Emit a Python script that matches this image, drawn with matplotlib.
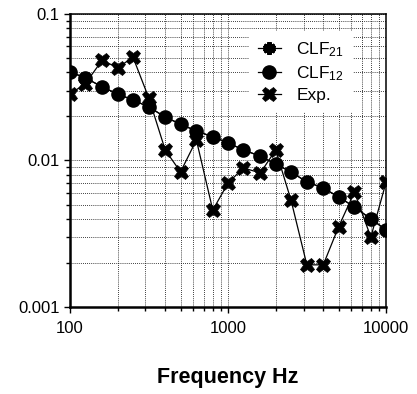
"""Loss factor vs frequency: CLF21, CLF12 and experiment"""

import matplotlib.pyplot as plt
from matplotlib.ticker import LogLocator, NullFormatter, FixedLocator, FixedFormatter

plt.rcParams['font.family'] = ['Liberation Sans', 'DejaVu Sans']
plt.rcParams['mathtext.fontset'] = 'custom'
plt.rcParams['mathtext.rm'] = 'Liberation Sans'
plt.rcParams['mathtext.it'] = 'Liberation Sans'
plt.rcParams['mathtext.bf'] = 'Liberation Sans:bold'

freq = [100, 125, 160, 200, 250, 315, 400, 500, 630, 800, 1000,
        1250, 1600, 2000, 2500, 3150, 4000, 5000, 6300, 8000, 10000]
clf12 = [0.0402, 0.0366, 0.0318, 0.0284, 0.0259, 0.0232, 0.0198, 0.0177, 0.0159, 0.0145, 0.0132,
         0.0118, 0.0107, 0.00946, 0.00835, 0.00714, 0.00649, 0.00564, 0.00482, 0.00399, 0.00336]
clf21 = [0.0402, 0.0366, 0.0318, 0.0284, 0.0259, 0.0232, 0.0198, 0.0177, 0.0159, 0.0145, 0.0132,
         0.0118, 0.0107, 0.00946, 0.00835, 0.00714, 0.00649, 0.00564, 0.00482, 0.00399, 0.00336]
exp = [0.0284, 0.0335, 0.0485, 0.0428, 0.0508, 0.0267, 0.0118, 0.00835, 0.0138, 0.00459, 0.00702,
       0.0089, 0.00822, 0.0118, 0.00537, 0.00194, 0.00194, 0.00352, 0.0061, 0.0030, 0.00714]

fig = plt.figure(figsize=(4.17, 3.94), dpi=100)
ax = fig.add_axes([0.168, 0.2208, 0.758, 0.7437])

ax.plot(freq, clf21, color="black", lw=0.9, marker=(6, 2, 0), ms=9, mew=3, label="CLF$_{21}$")
ax.plot(freq, exp, color="black", lw=0.9, marker="X", ms=10.5, mew=0.5, label="Exp.")
ax.plot(freq, clf12, color="black", lw=0.9, marker="o", ms=9.5, label="CLF$_{12}$")

ax.set_xscale("log")
ax.set_yscale("log")
ax.set_xlim(100, 10000)
ax.set_ylim(0.001, 0.1)

ax.xaxis.set_major_locator(FixedLocator([100, 1000, 10000]))
ax.xaxis.set_major_formatter(FixedFormatter(["100", "1000", "10000"]))
ax.xaxis.set_minor_locator(LogLocator(base=10, subs=range(2, 10)))
ax.xaxis.set_minor_formatter(NullFormatter())
ax.yaxis.set_major_locator(FixedLocator([0.001, 0.01, 0.1]))
ax.yaxis.set_major_formatter(FixedFormatter(["0.001", "0.01", "0.1"]))
ax.yaxis.set_minor_locator(LogLocator(base=10, subs=range(2, 10)))
ax.yaxis.set_minor_formatter(NullFormatter())

ax.grid(True, which="both", color="black", linestyle=(0, (1, 1.5)), linewidth=0.6)
ax.set_axisbelow(True)
ax.tick_params(which="both", direction="out", labelsize=12, width=1, color="black")
ax.tick_params(which="major", length=4)
ax.tick_params(which="minor", length=3)
ax.tick_params(axis="x", pad=6)

for side in ["left", "bottom"]:
    ax.spines[side].set_linewidth(1.8)
for side in ["top", "right"]:
    ax.spines[side].set_linewidth(1.1)

handles, labels = ax.get_legend_handles_labels()
order = [0, 2, 1]
ax.legend([handles[i] for i in order], [labels[i] for i in order],
          loc="upper left", bbox_to_anchor=(0.54, 0.97), fontsize=12.5,
          frameon=True, framealpha=1, edgecolor="none", fancybox=False,
          handlelength=1.3, handletextpad=0.9, labelspacing=0.3, borderpad=0.5)

fig.text(0.547, 0.028, "Frequency Hz", ha="center", fontsize=15.5, fontweight="bold")

fig.savefig("out.png", dpi=100)
